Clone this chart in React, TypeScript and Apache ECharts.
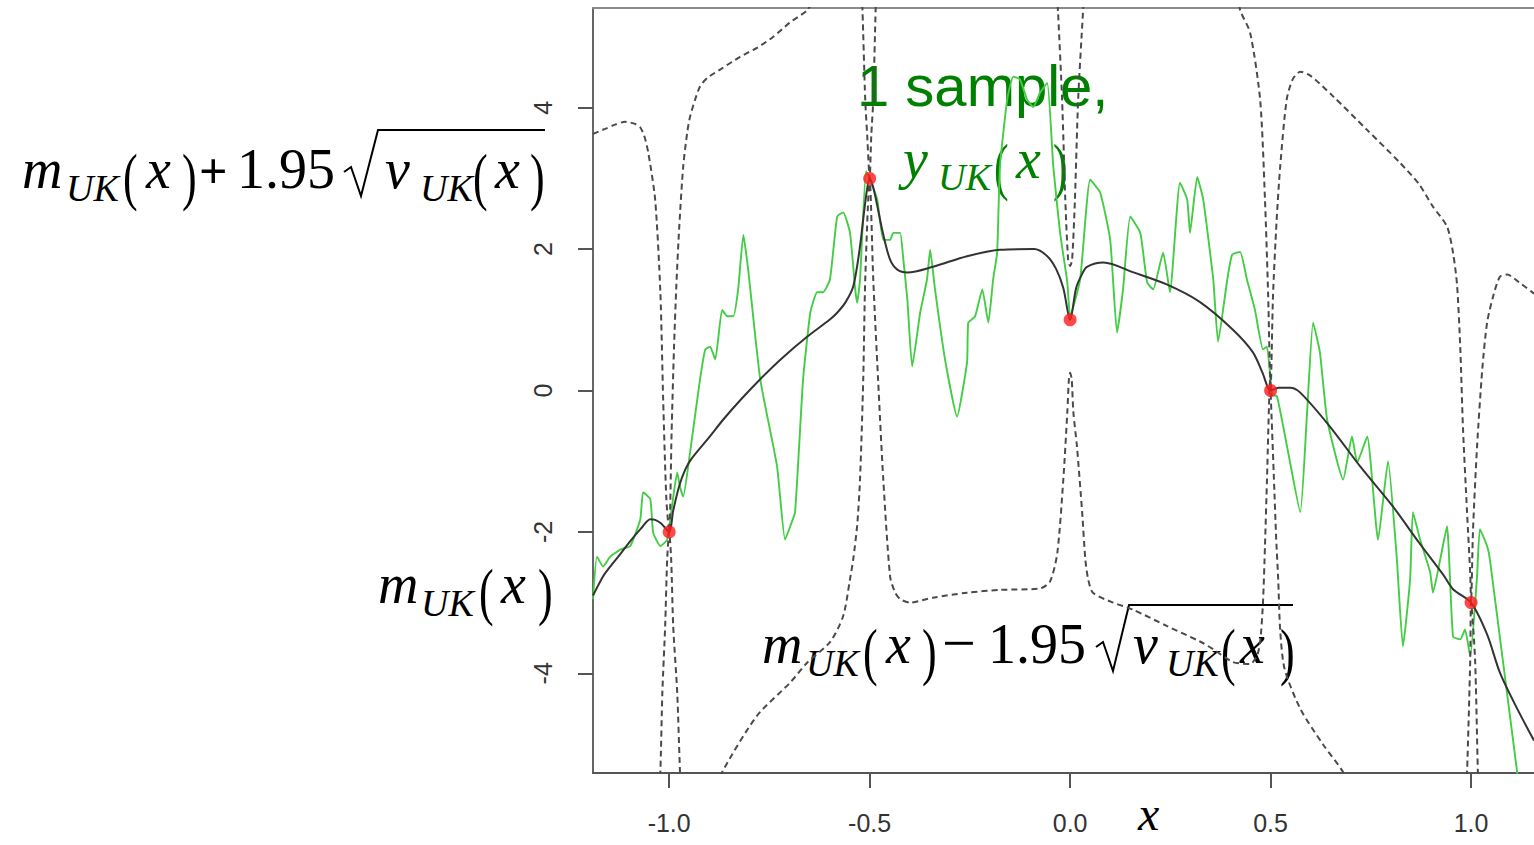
import React, { useEffect, useRef } from "react";
import * as echarts from "echarts";

// ---- data ----
const xTicks = [-1, -0.5, 0, 0.5, 1];
const yTicks = [-4, -2, 0, 2, 4];
const xRange = [-1.19, 1.157];
const yRange = [-5.41, 5.41];

const designPoints: [number, number][] = [
  [-1, -2], [-0.5, 3], [0, 1], [0.5, 0], [1, -3],
];

const meanCurve: [number, number][] = [
  [-1.19, -2.9], [-1.165, -2.63], [-1.147, -2.49], [-1.12, -2.3], [-1.1, -2.15], [-1.07, -1.95],
  [-1.047, -1.82], [-1.035, -1.83], [-1.02, -1.88], [-1.0, -2.0],
  [-0.99, -1.7], [-0.975, -1.35], [-0.96, -1.12], [-0.945, -0.97], [-0.9, -0.66], [-0.865, -0.41],
  [-0.82, -0.12], [-0.773, 0.16], [-0.72, 0.45], [-0.656, 0.76], [-0.6, 1.0], [-0.581, 1.1],
  [-0.56, 1.25], [-0.541, 1.47], [-0.525, 2.0], [-0.51, 2.7], [-0.5, 3.0],
  [-0.49, 2.85], [-0.467, 2.23], [-0.449, 1.85], [-0.431, 1.71], [-0.406, 1.67], [-0.342, 1.75],
  [-0.257, 1.9], [-0.175, 1.99], [-0.09, 2.0], [-0.057, 1.9], [-0.035, 1.72], [-0.017, 1.45], [0, 1.0],
  [0.015, 1.45], [0.03, 1.65], [0.042, 1.75], [0.083, 1.81], [0.158, 1.67], [0.241, 1.5],
  [0.324, 1.25], [0.406, 0.86], [0.456, 0.54], [0.48, 0.25], [0.5, 0.0],
  [0.52, 0.04], [0.549, 0.04], [0.574, -0.03], [0.648, -0.51], [0.723, -1.07], [0.805, -1.64],
  [0.87, -2.15], [0.93, -2.6], [0.955, -2.81], [1.0, -3.0], [1.04, -3.45], [1.072, -3.99],
  [1.115, -4.5], [1.157, -4.95],
];

const upperBound: ([number, number] | null)[] = [
  [-1.19, 3.63], [-1.16, 3.7], [-1.135, 3.76], [-1.11, 3.8], [-1.097, 3.79], [-1.085, 3.77],
  [-1.072, 3.72], [-1.062, 3.6], [-1.052, 3.36], [-1.035, 2.7], [-1.022, 1.39], [-1.015, -0.13],
  [-1.007, -1.54], [-1.0, -2.0],
  [-0.994, -0.6], [-0.988, 0.6], [-0.982, 1.5], [-0.975, 2.3], [-0.965, 3.17], [-0.955, 3.65],
  [-0.948, 3.87], [-0.935, 4.12], [-0.923, 4.3], [-0.905, 4.42], [-0.87, 4.55], [-0.823, 4.72],
  [-0.78, 4.85], [-0.741, 5.0], [-0.7, 5.2], [-0.656, 5.38], [-0.63, 5.6], null,
  [-0.52, 5.6], [-0.518, 5.4], [-0.511, 4.11], [-0.506, 3.6], [-0.5, 3.0],
  [-0.496, 3.6], [-0.491, 4.11], [-0.485, 5.4], [-0.483, 5.6], null,
  [-0.033, 5.6], [-0.03, 5.34], [-0.02, 4.11], [-0.012, 2.7], [-0.005, 1.85], [0, 1.76],
  [0.005, 1.85], [0.012, 2.7], [0.02, 4.11], [0.032, 5.34], [0.035, 5.6], null,
  [0.42, 5.6], [0.424, 5.38], [0.449, 5.06], [0.474, 4.11], [0.486, 2.7], [0.494, 1.33], [0.5, 0.0],
  [0.506, 1.33], [0.515, 2.4], [0.524, 3.17], [0.54, 4.11], [0.555, 4.4], [0.574, 4.51],
  [0.6, 4.45], [0.656, 4.16], [0.74, 3.69], [0.823, 3.22], [0.87, 2.92], [0.905, 2.6],
  [0.94, 2.32], [0.955, 1.95], [0.965, 1.5], [0.973, 0.62], [0.98, -0.55], [0.99, -1.72],
  [0.998, -2.6], [1.0, -3.0],
  [1.005, -1.96], [1.015, -0.79], [1.028, 0.3], [1.04, 0.96], [1.055, 1.33], [1.072, 1.61],
  [1.09, 1.64], [1.12, 1.53], [1.157, 1.37],
];

const lowerBound: ([number, number] | null)[] = [
  [-1.025, -5.6], [-1.022, -5.4], [-1.017, -4.27], [-1.01, -3.33], [-1.005, -2.39], [-1.0, -2.0],
  [-0.995, -2.39], [-0.99, -3.33], [-0.98, -4.27], [-0.973, -5.4], [-0.971, -5.6], null,
  [-0.875, -5.6], [-0.868, -5.4], [-0.781, -4.6], [-0.698, -4.13], [-0.656, -3.85], [-0.599, -3.56],
  [-0.566, -3.19], [-0.549, -2.67], [-0.541, -2.39], [-0.531, -1.9], [-0.524, -1.26], [-0.516, 0.16],
  [-0.511, 1.57], [-0.5, 3.0],
  [-0.491, 1.57], [-0.479, 0.16], [-0.466, -1.26], [-0.449, -2.63], [-0.437, -2.85], [-0.424, -2.95],
  [-0.399, -3.0], [-0.342, -2.93], [-0.257, -2.86], [-0.175, -2.82], [-0.075, -2.8], [-0.05, -2.7],
  [-0.032, -2.3], [-0.017, -1.26], [-0.007, -0.31], [-0.003, 0.16], [0, 0.25],
  [0.004, 0.16], [0.008, -0.3], [0.017, -0.79], [0.03, -1.72], [0.038, -2.39], [0.045, -2.67],
  [0.057, -2.86], [0.107, -3.0], [0.157, -3.1], [0.241, -3.33], [0.324, -3.55], [0.357, -3.66],
  [0.406, -3.84], [0.449, -3.87], [0.466, -3.75], [0.474, -3.56], [0.481, -3.0], [0.486, -2.2],
  [0.491, -1.26], [0.499, 0.16], [0.5, 0.0],
  [0.508, -1.2], [0.514, -2.1], [0.519, -2.67], [0.524, -3.4], [0.535, -3.94], [0.574, -4.5],
  [0.63, -5.0], [0.681, -5.4], [0.69, -5.6], null,
  [0.987, -5.6], [0.99, -5.4], [0.998, -3.8], [1.0, -3.0], [1.01, -3.8], [1.017, -5.4], [1.019, -5.6],
];

const samplePath: [number, number][] = [
  [-1.19, -2.95], [-1.18, -2.35], [-1.165, -2.49], [-1.147, -2.35], [-1.122, -2.25], [-1.097, -2.2],
  [-1.072, -1.82], [-1.065, -1.44], [-1.047, -1.54], [-1.04, -2.01], [-1.022, -2.2], [-1.005, -2.11],
  [-0.993, -1.64], [-0.98, -1.16], [-0.973, -1.36], [-0.965, -1.5], [-0.948, -0.88], [-0.923, 0.16],
  [-0.91, 0.58], [-0.898, 0.62], [-0.885, 0.44], [-0.868, 1.14], [-0.855, 1.05], [-0.84, 1.05],
  [-0.828, 1.43], [-0.815, 2.2], [-0.803, 1.71], [-0.773, 0.16], [-0.731, -1.07], [-0.711, -2.11],
  [-0.698, -1.92], [-0.686, -1.72], [-0.666, 0.16], [-0.648, 1.1], [-0.631, 1.39], [-0.616, 1.39],
  [-0.599, 1.57], [-0.581, 2.46], [-0.566, 2.52], [-0.549, 2.23], [-0.536, 1.43], [-0.531, 1.24],
  [-0.524, 1.57], [-0.509, 3.1], [-0.499, 2.98], [-0.481, 2.7], [-0.466, 2.13], [-0.449, 2.13],
  [-0.441, 2.23], [-0.424, 2.23], [-0.416, 1.85], [-0.406, 1.29], [-0.394, 0.34], [-0.374, 1.1],
  [-0.357, 1.57], [-0.349, 1.99], [-0.337, 1.43], [-0.312, 0.44], [-0.282, -0.37], [-0.257, 0.4],
  [-0.254, 0.96], [-0.237, 1.05], [-0.219, 1.43], [-0.204, 0.96], [-0.192, 1.57], [-0.182, 1.95],
  [-0.175, 3.17], [-0.157, 4.11], [-0.142, 4.44], [-0.125, 4.4], [-0.107, 4.11], [-0.092, 4.01],
  [-0.075, 4.21], [-0.057, 4.35], [-0.042, 3.17], [-0.025, 2.23], [-0.007, 1.53], [0.0, 1.05],
  [0.025, 1.57], [0.05, 2.98], [0.075, 2.8], [0.1, 2.13], [0.117, 0.82], [0.132, 1.43],
  [0.15, 2.46], [0.175, 2.23], [0.192, 1.53], [0.207, 1.43], [0.232, 1.95], [0.249, 1.39],
  [0.274, 2.94], [0.292, 2.7], [0.299, 2.23], [0.317, 3.02], [0.332, 2.7], [0.357, 1.57],
  [0.369, 0.69], [0.392, 1.57], [0.404, 1.92], [0.424, 1.96], [0.441, 1.57], [0.461, 1.14],
  [0.481, 0.58], [0.491, 0.62], [0.504, -0.06], [0.516, -0.08], [0.541, -0.79], [0.574, -1.72],
  [0.591, -0.31], [0.606, 0.96], [0.623, 0.54], [0.641, -0.41], [0.681, -1.26], [0.703, -0.65],
  [0.716, -1.02], [0.741, -0.65], [0.768, -2.11], [0.793, -1.0], [0.815, -2.39], [0.83, -3.62],
  [0.848, -2.67], [0.855, -1.72], [0.873, -2.11], [0.898, -2.57], [0.905, -2.86], [0.923, -2.39],
  [0.94, -1.92], [0.955, -3.48], [0.973, -3.52], [0.985, -3.38], [0.998, -3.76], [1.015, -2.63],
  [1.022, -1.96], [1.04, -2.2], [1.047, -2.39], [1.115, -5.4], [1.122, -5.64],
];

// ---- annotation helpers ----
const SERIF = '"Liberation Serif", "DejaVu Serif", serif';
function piece(
  text: string, x: number, baseline: number, size: number, italic: boolean,
  color = "#000", family = SERIF, scaleY = 1, bold = false,
) {
  return {
    type: "text",
    x,
    y: baseline - 0.3375 * size * scaleY,
    scaleY,
    silent: true,
    style: {
      text,
      font: `${italic ? "italic " : ""}${bold ? "bold " : ""}${size}px ${family}`,
      fill: color,
      textAlign: "left",
      textVerticalAlign: "middle",
      align: "left",
      verticalAlign: "middle",
    },
  };
}
function paren(text: string, x: number, baseline: number, color = "#000") {
  // thin, tall parenthesis
  return piece(text, x, baseline + 10, 44, false, color, SERIF, 1.45);
}
function radical(pts: number[][], color = "#000") {
  return {
    type: "polyline",
    silent: true,
    shape: { points: pts },
    style: { stroke: color, lineWidth: 2, fill: null },
  };
}

const BIG = 56;
const SUB = 38;

function formulaElements() {
  const els: any[] = [];
  // m_UK(x)+1.95 sqrt(v_UK(x))
  let b = 188;
  els.push(piece("m", 22, b, BIG, true));
  els.push(piece("UK", 66, b + 13, SUB, true));
  els.push(paren("(", 123, b));
  els.push(piece("x", 146, b, BIG, true));
  els.push(paren(")", 182, b));
  els.push(piece("+", 199, b, 50, false, "#000", SERIF, 1, true));
  els.push(piece("1.95", 237, b, BIG, false));
  els.push(radical([[344, 172], [351, 167], [361, 196], [378, 130], [545, 130]]));
  els.push(piece("v", 385, b, BIG, true));
  els.push(piece("UK", 420, b + 13, SUB, true));
  els.push(paren("(", 473, b));
  els.push(piece("x", 495, b, BIG, true));
  els.push(paren(")", 530, b));
  // m_UK(x)
  b = 603;
  els.push(piece("m", 378, b, BIG, true));
  els.push(piece("UK", 421, b + 13, SUB, true));
  els.push(paren("(", 479, b));
  els.push(piece("x", 501, b, BIG, true));
  els.push(paren(")", 538, b));
  // m_UK(x)-1.95 sqrt(v_UK(x))
  b = 663;
  els.push(piece("m", 762, b, BIG, true));
  els.push(piece("UK", 806, b + 13, SUB, true));
  els.push(paren("(", 863, b));
  els.push(piece("x", 886, b, BIG, true));
  els.push(paren(")", 922, b));
  els.push(piece("\u2212", 942, b, 60, false));
  els.push(piece("1.95", 988, b, BIG, false));
  els.push(radical([[1096, 647], [1103, 642], [1113, 671], [1129, 605], [1293, 605]]));
  els.push(piece("v", 1133, b, BIG, true));
  els.push(piece("UK", 1166, b + 13, SUB, true));
  els.push(paren("(", 1221, b));
  els.push(piece("x", 1240, b, BIG, true));
  els.push(paren(")", 1280, b));
  // green labels
  const G = "#008000";
  els.push(piece("1 sample,", 857, 105, 58, false, G, '"Liberation Sans", Arial, sans-serif'));
  b = 178;
  els.push(piece("y", 903, b, BIG, true, G));
  els.push(piece("UK", 938, b + 12, SUB, true, G));
  els.push(paren("(", 994, b, G));
  els.push(piece("x", 1016, b, BIG, true, G));
  els.push(paren(")", 1053, b, G));
  // x axis title
  els.push(piece("x", 1138, 830, 48, true));
  return els;
}

export default function App() {
  const ref = useRef<HTMLDivElement>(null);
  useEffect(() => {
    if (!ref.current) return;
    const chart = echarts.init(ref.current, null, { renderer: "svg" });
    const boxLine = { show: true, lineStyle: { color: "#8a8a8a", width: 2 } };
    const labelFont = '"Liberation Sans", Arial, sans-serif';
    const option: any = {
      animation: false,
      backgroundColor: "#ffffff",
      grid: { left: 593, top: 8, right: 0, bottom: 72, containLabel: false },
      xAxis: [
        {
          type: "value",
          position: "bottom",
          min: xRange[0],
          max: xRange[1],
          axisLine: { show: true, onZero: false, lineStyle: { color: "#555", width: 2 } },
          axisTick: { show: true, customValues: xTicks, length: 15, lineStyle: { color: "#555", width: 2 } },
          axisLabel: {
            show: true,
            customValues: xTicks,
            formatter: (v: number) => v.toFixed(1),
            fontSize: 25,
            color: "#333",
            margin: 37,
            fontFamily: labelFont,
          },
          splitLine: { show: false },
        },
        {
          type: "value",
          position: "top",
          min: xRange[0],
          max: xRange[1],
          axisLine: { ...boxLine, onZero: false },
          axisTick: { show: false },
          axisLabel: { show: false },
          splitLine: { show: false },
        },
      ],
      yAxis: [
        {
          type: "value",
          position: "left",
          min: yRange[0],
          max: yRange[1],
          axisLine: { show: true, onZero: false, lineStyle: { color: "#666", width: 2 } },
          axisTick: { show: true, customValues: yTicks, length: 15, lineStyle: { color: "#555", width: 2 } },
          axisLabel: {
            show: true,
            customValues: yTicks,
            formatter: (v: number) => String(v),
            rotate: 90,
            fontSize: 25,
            color: "#333",
            margin: 38,
            fontFamily: labelFont,
          },
          splitLine: { show: false },
        },
      ],
      series: [
        {
          type: "line",
          name: "sample",
          data: samplePath,
          showSymbol: false,
          clip: true,
          smooth: 0.15,
          lineStyle: { color: "#44cc44", width: 1.9 },
          z: 2,
        },
        {
          type: "line",
          name: "upper",
          data: upperBound,
          showSymbol: false,
          connectNulls: false,
          clip: true,
          smooth: 0.25,
          lineStyle: { color: "#4a4a4a", width: 2, type: [6, 4] },
          z: 3,
        },
        {
          type: "line",
          name: "lower",
          data: lowerBound,
          showSymbol: false,
          connectNulls: false,
          clip: true,
          smooth: 0.25,
          lineStyle: { color: "#4a4a4a", width: 2, type: [6, 4] },
          z: 3,
        },
        {
          type: "line",
          name: "mean",
          data: meanCurve,
          showSymbol: false,
          clip: true,
          smooth: 0.3,
          lineStyle: { color: "#333", width: 2 },
          z: 4,
        },
        {
          type: "scatter",
          name: "design",
          data: designPoints,
          symbolSize: 13,
          itemStyle: { color: "#ff1a1a" },
          z: 5,
        },
      ],
      graphic: { elements: formulaElements() },
    };
    chart.setOption(option);
    return () => chart.dispose();
  }, []);
  return (
    <div
      ref={ref}
      style={{ position: "absolute", left: 0, top: 0, width: 1534, height: 845, background: "#fff" }}
    />
  );
}
